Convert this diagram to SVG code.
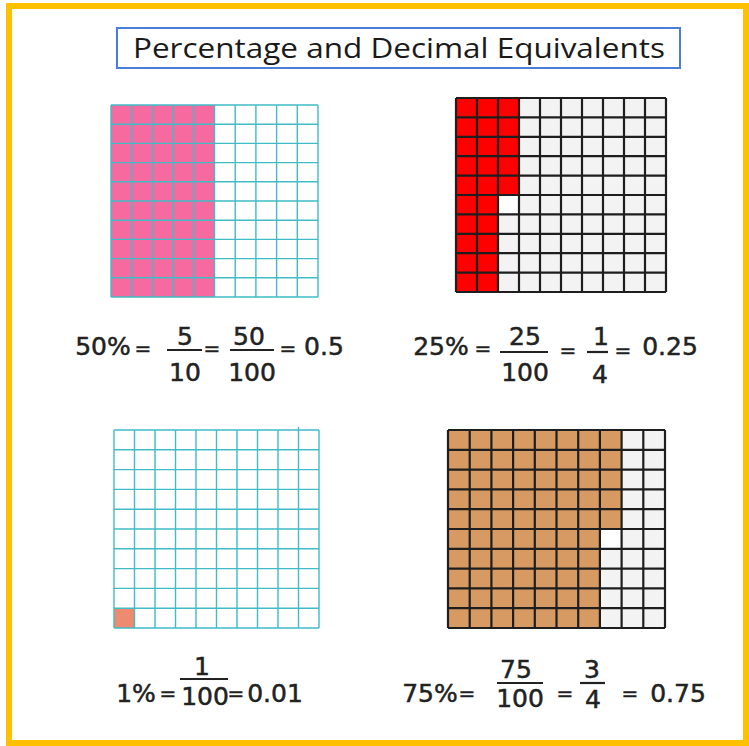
<svg xmlns="http://www.w3.org/2000/svg" width="749" height="746" viewBox="0 0 749 746">
<style>
.eq{font-family:"DejaVu Sans","Liberation Sans",sans-serif;font-size:25px;fill:#222;stroke:#222;stroke-width:0.5;text-anchor:middle}
.eqs{font-family:"DejaVu Sans","Liberation Sans",sans-serif;font-size:20px;fill:#222;stroke:#222;stroke-width:0.5;text-anchor:middle}
.bar{stroke:#222;stroke-width:2.2}
.teal{fill:none;stroke:#3fbcc6;stroke-width:1.4}
.blk{fill:none;stroke:#1e1e1e;stroke-width:2.2}
.title{font-family:"Open Sans","DejaVu Sans",sans-serif;font-size:28px;fill:#1a1a1a}
</style>
<rect x="0" y="0" width="749" height="746" fill="#ffffff"/>
<rect x="9" y="6" width="737" height="737" fill="none" stroke="#ffc000" stroke-width="6"/>

<g id="title">
<rect x="117" y="28" width="563" height="40" fill="#ffffff" stroke="#4a7fd8" stroke-width="2"/>
<text class="title" x="133" y="58" textLength="532" lengthAdjust="spacingAndGlyphs">Percentage and Decimal Equivalents</text>
</g>

<g id="grid50">
<rect x="111" y="105" width="103.5" height="192" fill="#f76aa0"/>
<path class="teal" d="M111 105V297M131.7 105V297M152.4 105V297M173.1 105V297M193.8 105V297M214.5 105V297M235.2 105V297M255.9 105V297M276.6 105V297M297.3 105V297M318 105V297M111 105H318M111 124.2H318M111 143.4H318M111 162.6H318M111 181.8H318M111 201H318M111 220.2H318M111 239.4H318M111 258.6H318M111 277.8H318M111 297H318"/>
</g>

<g id="grid25">
<rect x="456" y="98" width="210" height="194" fill="#f3f3f3"/>
<rect x="456" y="98" width="63" height="97" fill="#ff0000"/>
<rect x="456" y="195" width="42" height="97" fill="#ff0000"/>
<rect x="498" y="195" width="21" height="19.4" fill="#ffffff"/>
<path class="blk" d="M456 98V292M477 98V292M498 98V292M519 98V292M540 98V292M561 98V292M582 98V292M603 98V292M624 98V292M645 98V292M666 98V292M456 98H666M456 117.4H666M456 136.8H666M456 156.2H666M456 175.6H666M456 195H666M456 214.4H666M456 233.8H666M456 253.2H666M456 272.6H666M456 292H666"/>
</g>

<g id="grid1">
<rect x="114" y="608.2" width="20.5" height="19.8" fill="#ee8a6e"/>
<path class="teal" d="M114 430V628M134.5 430V628M155 430V628M175.5 430V628M196 430V628M216.5 430V628M237 430V628M257.5 430V628M278 430V628M298.5 427V628M319 430V628M114 430H319M114 449.8H319M114 469.6H319M114 489.4H319M114 509.2H319M114 529H319M114 548.8H319M114 568.6H319M114 588.4H319M114 608.2H319M114 628H319"/>
</g>

<g id="grid75">
<rect x="448" y="430" width="217" height="198" fill="#f3f3f3"/>
<rect x="448" y="430" width="173.6" height="99" fill="#d69a62"/>
<rect x="448" y="529" width="151.9" height="99" fill="#d69a62"/>
<rect x="599.9" y="529" width="21.7" height="19.8" fill="#ffffff"/>
<path class="blk" d="M448 430V628M469.7 430V628M491.4 430V628M513.1 430V628M534.8 430V628M556.5 430V628M578.2 430V628M599.9 430V628M621.6 430V628M643.3 430V628M665 430V628M448 430H665M448 449.8H665M448 469.6H665M448 489.4H665M448 509.2H665M448 529H665M448 548.8H665M448 568.6H665M448 588.4H665M448 608.2H665M448 628H665"/>
</g>

<g id="eq50">
<text class="eq" x="103" y="355">50%</text>
<text class="eqs" x="143" y="355">=</text>
<text class="eq" x="185" y="345">5</text>
<line class="bar" x1="167" y1="350" x2="202" y2="350"/>
<text class="eq" x="185" y="381">10</text>
<text class="eqs" x="212" y="355">=</text>
<text class="eq" x="249" y="345">50</text>
<line class="bar" x1="230" y1="350" x2="274" y2="350"/>
<text class="eq" x="252" y="381">100</text>
<text class="eqs" x="288" y="355">=</text>
<text class="eq" x="324" y="355">0.5</text>
</g>

<g id="eq25">
<text class="eq" x="441" y="355">25%</text>
<text class="eqs" x="483" y="355">=</text>
<text class="eq" x="525" y="345">25</text>
<line class="bar" x1="500" y1="352" x2="548" y2="352"/>
<text class="eq" x="525" y="381">100</text>
<text class="eqs" x="568" y="357">=</text>
<text class="eq" x="601" y="345">1</text>
<line class="bar" x1="587" y1="352" x2="608" y2="352"/>
<text class="eq" x="600" y="383">4</text>
<text class="eqs" x="623" y="357">=</text>
<text class="eq" x="670" y="355">0.25</text>
</g>

<g id="eq1">
<text class="eq" x="136" y="702">1%</text>
<text class="eqs" x="168" y="700">=</text>
<text class="eq" x="202" y="675">1</text>
<line class="bar" x1="180" y1="679" x2="228" y2="679"/>
<text class="eq" x="205" y="705">100</text>
<text class="eqs" x="236" y="700">=</text>
<text class="eq" x="275" y="702">0.01</text>
</g>

<g id="eq75">
<text class="eq" x="430" y="702">75%</text>
<text class="eqs" x="467" y="700">=</text>
<text class="eq" x="516" y="678">75</text>
<line class="bar" x1="497" y1="683" x2="543" y2="683"/>
<text class="eq" x="520" y="707">100</text>
<text class="eqs" x="565" y="700">=</text>
<text class="eq" x="592" y="678">3</text>
<line class="bar" x1="580" y1="683" x2="605" y2="683"/>
<text class="eq" x="593" y="708">4</text>
<text class="eqs" x="630" y="700">=</text>
<text class="eq" x="678" y="702">0.75</text>
</g>
</svg>
